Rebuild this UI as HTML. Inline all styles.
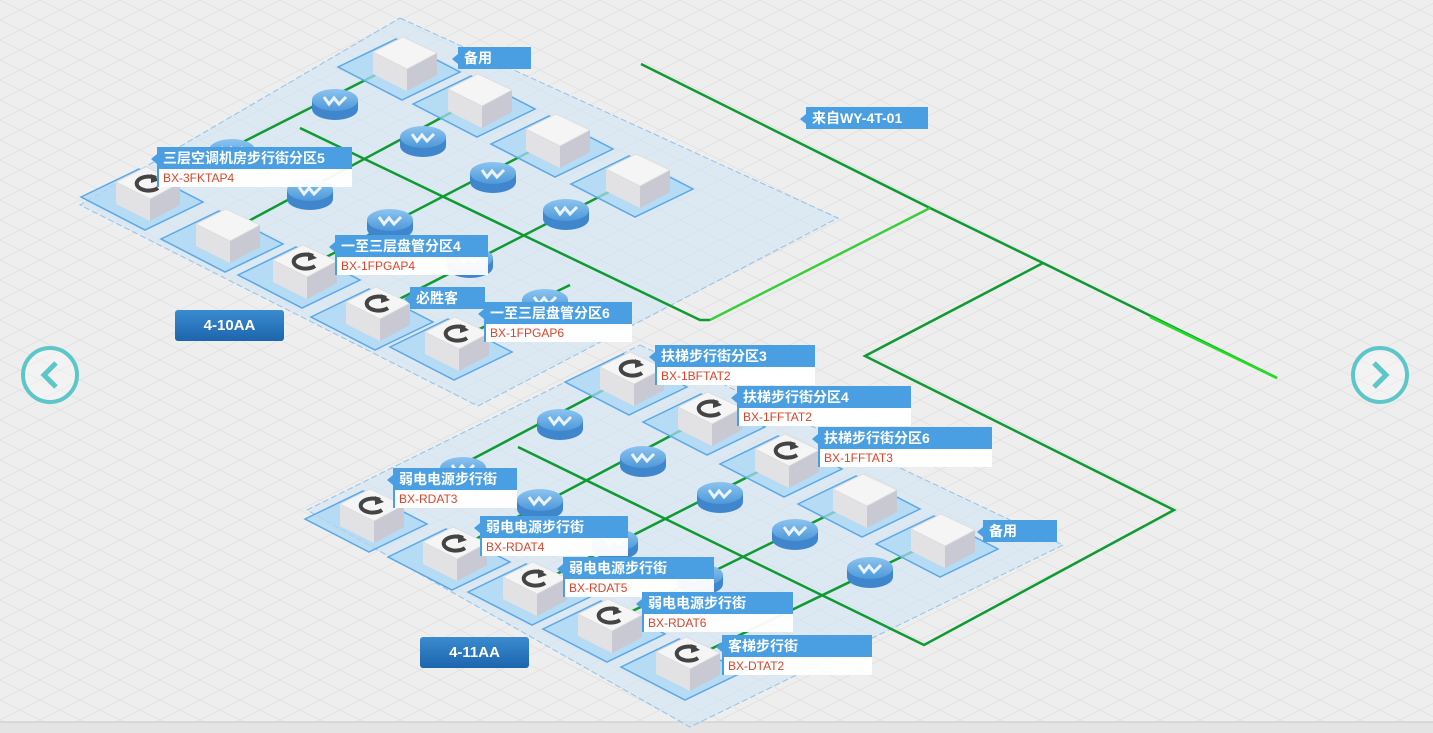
<!DOCTYPE html>
<html><head><meta charset="utf-8">
<style>
html,body{margin:0;padding:0;}
body{width:1433px;height:733px;overflow:hidden;position:relative;background:#eeeeee;font-family:"Liberation Sans","Noto Sans CJK SC",sans-serif;}
svg{position:absolute;left:0;top:0;}
.lb{position:absolute;}
.lb .h{background:#4a9fe2;color:#fff;font-weight:bold;font-size:14px;height:22px;line-height:22px;padding-left:6px;position:relative;white-space:nowrap;}
.lb .h:before{content:"";position:absolute;left:-6px;top:7px;border-right:6px solid #4a9fe2;border-top:5px solid transparent;border-bottom:5px solid transparent;}
.lb .s{background:rgba(255,255,255,0.95);color:#d9452a;font-size:12px;height:18px;line-height:18px;padding-left:4px;border-left:2px solid #4a9fe2;}
.btn{position:absolute;width:109px;height:31px;background:linear-gradient(#3b8bd0,#1c65ad);border-radius:3px;color:#fff;font-weight:bold;font-size:15px;text-align:center;line-height:31px;}
</style></head><body>
<svg id="s" width="1433" height="733" xmlns="http://www.w3.org/2000/svg">
<defs>
<pattern id="g" width="40" height="20" patternUnits="userSpaceOnUse"><path d="M0 0 L40 20 M40 0 L0 20" stroke="#e2e2e2" stroke-width="1"/></pattern>
<linearGradient id="rt" x1="0" y1="0" x2="0" y2="1"><stop offset="0" stop-color="#8cc4f0"/><stop offset="1" stop-color="#4e98da"/></linearGradient>
</defs>
<rect width="1433" height="733" fill="url(#g)"/>
<rect y="722" width="1433" height="11" fill="#e4e4e4"/><line x1="0" y1="722" x2="1433" y2="722" stroke="#c8c8c8"/>
<polygon points="400,18 838,218 478,406 80,205" fill="rgba(205,228,246,0.55)" stroke="#90c2ec" stroke-dasharray="6,3"/>
<polygon points="640,345 1063,545 690,727 307,510" fill="rgba(205,228,246,0.55)" stroke="#90c2ec" stroke-dasharray="6,3"/>
<g id="lines" fill="none" stroke="#0f9a32" stroke-width="2.5"></g>
<g id="objs"></g>
<circle cx="50" cy="375" r="27" fill="#fff" fill-opacity="0.3" stroke="#5cc6c8" stroke-width="4"/>
<path d="M56 363 L44 375 L56 387" fill="none" stroke="#5cc6c8" stroke-width="5"/>
<circle cx="1380" cy="375" r="27" fill="#fff" fill-opacity="0.3" stroke="#5cc6c8" stroke-width="4"/>
<path d="M1374 363 L1386 375 L1374 387" fill="none" stroke="#5cc6c8" stroke-width="5"/>
</svg>

<div class="lb" style="left:458px;top:47px;width:73px"><div class="h">备用</div></div>
<div class="lb" style="left:806px;top:107px;width:122px"><div class="h">来自WY-4T-01</div></div>
<div class="lb" style="left:157px;top:147px;width:195px"><div class="h">三层空调机房步行街分区5</div><div class="s">BX-3FKTAP4</div></div>
<div class="lb" style="left:335px;top:235px;width:153px"><div class="h">一至三层盘管分区4</div><div class="s">BX-1FPGAP4</div></div>
<div class="lb" style="left:410px;top:287px;width:75px"><div class="h">必胜客</div></div>
<div class="lb" style="left:484px;top:302px;width:148px"><div class="h">一至三层盘管分区6</div><div class="s">BX-1FPGAP6</div></div>
<div class="lb" style="left:655px;top:345px;width:160px"><div class="h">扶梯步行街分区3</div><div class="s">BX-1BFTAT2</div></div>
<div class="lb" style="left:737px;top:386px;width:174px"><div class="h">扶梯步行街分区4</div><div class="s">BX-1FFTAT2</div></div>
<div class="lb" style="left:818px;top:427px;width:174px"><div class="h">扶梯步行街分区6</div><div class="s">BX-1FFTAT3</div></div>
<div class="lb" style="left:393px;top:468px;width:124px"><div class="h">弱电电源步行街</div><div class="s">BX-RDAT3</div></div>
<div class="lb" style="left:480px;top:516px;width:148px"><div class="h">弱电电源步行街</div><div class="s">BX-RDAT4</div></div>
<div class="lb" style="left:563px;top:557px;width:151px"><div class="h">弱电电源步行街</div><div class="s">BX-RDAT5</div></div>
<div class="lb" style="left:642px;top:592px;width:151px"><div class="h">弱电电源步行街</div><div class="s">BX-RDAT6</div></div>
<div class="lb" style="left:722px;top:635px;width:150px"><div class="h">客梯步行街</div><div class="s">BX-DTAT2</div></div>
<div class="lb" style="left:983px;top:520px;width:74px"><div class="h">备用</div></div>
<div class="btn" style="left:175px;top:310px">4-10AA</div>
<div class="btn" style="left:420px;top:637px">4-11AA</div>

<script>
var NS="http://www.w3.org/2000/svg";
function el(p,t,a){var e=document.createElementNS(NS,t);for(var k in a)e.setAttribute(k,a[k]);p.appendChild(e);return e;}
var L=document.getElementById("lines"),O=document.getElementById("objs");
function pl(pts,c){el(L,"polyline",{points:pts.map(function(p){return p.join(",")}).join(" "),stroke:c||"#0f9a32"});}
pl([[641,64],[930,208],[1043,263],[1277,378]]);
pl([[1150,317],[1277,378]],"#22dd22");
pl([[930,208],[710,320]],"#3ccc3c");
pl([[300,128],[700,320],[710,320]]);
pl([[1043,263],[865,356],[1174,510],[924,645],[518,447]]);
var UL=[[148,190],[228,232],[305,268],[378,310],[457,340]],UU=[[405,60],[480,97],[558,137],[638,177]];
for(var i=0;i<4;i++)pl([UL[i],UU[i]]);
pl([UL[4],[570,285]]);
var DL=[[372,512],[455,550],[535,585],[610,622],[688,660]],DU=[[632,375],[710,415],[787,457],[865,497],[943,537]];
for(var i=0;i<5;i++)pl([DL[i],DU[i]]);
function pad(x,y){el(O,"polygon",{points:[[x-67,y+7],[x-9,y-21],[x+55,y+12],[x-3,y+40]].join(" "),fill:"rgba(170,215,245,0.75)",stroke:"#5aa8e6","stroke-width":1.5});}
function cube(x,y,icon){
 el(O,"polygon",{points:[[x-32,y-8],[x+2,y+9],[x+2,y+31],[x-32,y+14]].join(" "),fill:"#e2e2e4"});
 el(O,"polygon",{points:[[x+2,y+9],[x+32,y-7],[x+32,y+15],[x+2,y+31]].join(" "),fill:"#c8c9d2"});
 el(O,"polygon",{points:[[x-32,y-8],[x-2,y-23],[x+32,y-7],[x+2,y+9]].join(" "),fill:"#f5f5f5",stroke:"#dcdcdc","stroke-width":0.8});
 if(icon){el(O,"path",{d:"M"+(x+8)+" "+(y-12)+" A12 7 0 1 0 "+(x+10)+" "+(y-2),fill:"none",stroke:"#444","stroke-width":4});
  el(O,"polygon",{points:[[x+3,y-16],[x+12,y-10],[x+3,y-7]].join(" "),fill:"#444"});}
}
function router(x,y){
 el(O,"path",{d:"M"+(x-23)+" "+y+" v9 a23 11 0 0 0 46 0 v-9z",fill:"#3f86cc"});
 el(O,"ellipse",{cx:x,cy:y,rx:23,ry:11,fill:"url(#rt)"});
 el(O,"path",{d:"M"+(x-11)+" "+(y-3)+" l5 7 l5 -6 l5 6 l7 -7",fill:"none",stroke:"#fff","stroke-width":3,opacity:0.85});
}
var ur=[[335,100],[232,150],[423,137],[310,190],[493,173],[390,220],[566,210],[470,258],[545,300]];
ur.forEach(function(r){router(r[0],r[1]);});
UU.forEach(function(p){pad(p[0],p[1]);cube(p[0],p[1],false);});
UL.forEach(function(p,i){pad(p[0],p[1]);cube(p[0],p[1],i!=1);});
var dr=[[560,420],[463,468],[643,457],[540,500],[720,493],[615,540],[795,530],[700,575],[870,568]];
dr.forEach(function(r){router(r[0],r[1]);});
DU.forEach(function(p,i){pad(p[0],p[1]);cube(p[0],p[1],i<3);});
DL.forEach(function(p){pad(p[0],p[1]);cube(p[0],p[1],true);});
</script>
</body></html>
